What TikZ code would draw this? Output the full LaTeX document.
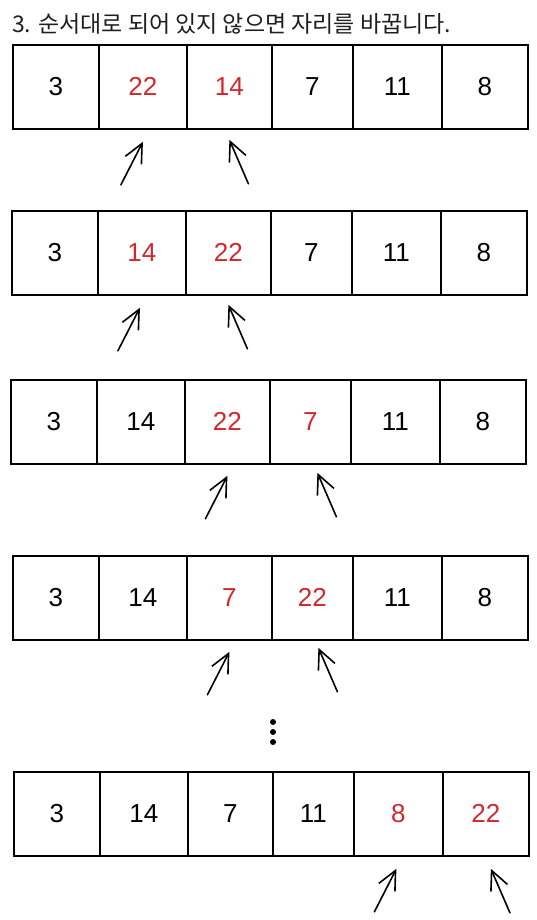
\documentclass[tikz,border=0pt]{standalone}
\usepackage{fontspec}
\setmainfont{Liberation Sans}
\newfontfamily\krfont{Noto Sans CJK KR}
\usetikzlibrary{arrows.meta,calc}
\definecolor{numred}{RGB}{210,40,45}
\newcommand\redn[1]{\textcolor{numred}{#1}}
\newcommand\cellrow[9]{%
  \node[cell, minimum width=86pt] (#1a) at (#2,#3) {#4};
  \node[cell, minimum width=88pt] (#1b) at (#2+86,#3) {#5};
  \node[cell, minimum width=85pt] (#1c) at (#2+174,#3) {#6};
  \node[cell, minimum width=81pt] (#1d) at (#2+259,#3) {#7};
  \node[cell, minimum width=89pt] (#1e) at (#2+340,#3) {#8};
  \node[cell, minimum width=86pt] (#1f) at (#2+429,#3) {#9};
}
\begin{document}
\begin{tikzpicture}[x=1pt,y=-1pt,
  cell/.style={draw=black, line width=1.8pt, minimum height=84pt, inner sep=0pt,
    anchor=north west, font=\fontsize{26}{26}\selectfont},
  ptr/.style={-{Straight Barb[length=19pt,width=18pt]}, line width=1.6pt, line cap=round, line join=round},
  dotn/.style={circle, fill=black, inner sep=0pt, minimum size=6pt}]
\useasboundingbox (0,0) rectangle (537,920);

\node[anchor=base west, inner sep=0pt, text=black!88, font=\krfont\fontsize{23}{23}\selectfont] (title) at (12,33) {3. 순서대로 되어 있지 않으면 자리를 바꿉니다.};

\cellrow{r1}{12}{44}{3}{\redn{22}}{\redn{14}}{7}{11}{8}
\cellrow{r2}{11}{210}{3}{\redn{14}}{\redn{22}}{7}{11}{8}
\cellrow{r3}{10}{379}{3}{14}{\redn{22}}{\redn{7}}{11}{8}
\cellrow{r4}{12}{555}{3}{14}{\redn{7}}{\redn{22}}{11}{8}
\cellrow{r5}{13}{771}{3}{14}{7}{11}{\redn{8}}{\redn{22}}

% arrow heads and tails
\foreach \n/\c/\dx/\dy in {1L/r1b/0/12, 2L/r2b/-2/12, 3L/r3c/0/11, 4L/r4c/0/11, 5L/r5e/-2/12}{
  \coordinate (h\n) at ($(\c.south)+(\dx,\dy)$);
  \coordinate (t\n) at ($(h\n)+(-22,43)$);
}
\foreach \n/\c/\dx/\dy in {1R/r1c/0/10, 2R/r2c/0/9, 3R/r3d/7/8, 4R/r4d/6/7, 5R/r5f/5/12}{
  \coordinate (h\n) at ($(\c.south)+(\dx,\dy)$);
  \coordinate (t\n) at ($(h\n)+(19,44)$);
}
\foreach \n in {1L,1R,2L,2R,3L,3R,4L,4R,5L,5R}{
  \draw[ptr] (t\n) -- (h\n);
}

\node[dotn] (d1) at (273,722) {};
\node[dotn] (d2) at (273,732) {};
\node[dotn] (d3) at (273,742) {};
\end{tikzpicture}
\end{document}
